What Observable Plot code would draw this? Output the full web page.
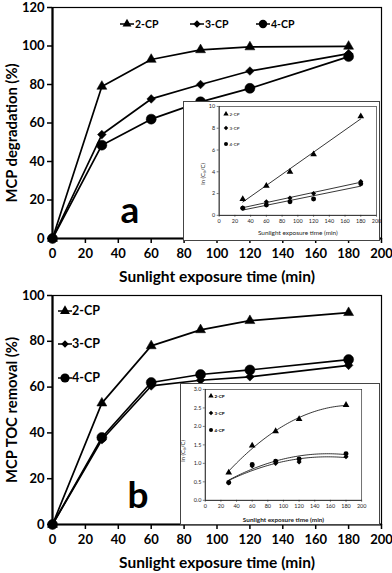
<!DOCTYPE html>
<html><head><meta charset="utf-8">
<script src="https://cdn.jsdelivr.net/npm/d3@7"></script>
<script src="https://cdn.jsdelivr.net/npm/@observablehq/plot@0.6"></script>
<style>
body{margin:0;background:#fff;}
#wrap{position:relative;width:392px;height:573px;overflow:hidden;font-family:Lato,'Open Sans',sans-serif;background:#fff;}
#wrap svg{overflow:visible;}
</style></head><body><div id="wrap"></div>
<script>
// ---- data ----
const series = ["2-CP", "3-CP", "4-CP"];
const times = [0, 30, 60, 90, 120, 180];
const degr2 = [0, 79, 93, 98, 99.5, 99.8];
const degr3 = [0, 54, 72.5, 80, 87, 96];
const degr4 = [0, 48.5, 62, 71, 78, 94.5];
const kinTimes = [30, 60, 90, 120, 180];
const kinA2 = [1.5, 2.7, 4.0, 5.6, 9.1];
const kinA3 = [0.7, 1.25, 1.6, 2.0, 3.1];
const kinA4 = [0.65, 0.95, 1.25, 1.5, 2.9];
const toc2 = [0, 53, 78, 85, 89, 92.5];
const toc3 = [0, 37, 60.5, 63, 64.5, 69.5];
const toc4 = [0, 38, 62, 65.5, 67.5, 72];
const kinB2 = [0.75, 1.48, 1.87, 2.2, 2.58];
const kinB3 = [0.47, 0.93, 1.0, 1.04, 1.18];
const kinB4 = [0.48, 0.97, 1.06, 1.12, 1.26];
const mainXTicks = [0, 20, 40, 60, 80, 100, 120, 140, 160, 180, 200];
const degrYTicks = [0, 20, 40, 60, 80, 100, 120];
const tocYTicks = [0, 20, 40, 60, 80, 100];
const insetAYTicks = [0, 2, 4, 6, 8, 10];
const insetBYTicks = [0, 0.5, 1, 1.5, 2, 2.5, 3];
const xTitle = "Sunlight exposure time (min)";
const yTitleA = "MCP degradation (%)";
const yTitleB = "MCP TOC removal (%)";
const insetYTitle = "ln (C\u2080/C)";
const panelA = "a", panelB = "b";

// ---- helpers ----
const FONT = "Lato, 'Open Sans', sans-serif";
const wrap = document.getElementById("wrap");
function place(node, left, top) {
  node.style.position = "absolute"; node.style.left = left + "px"; node.style.top = top + "px";
  wrap.appendChild(node); return node;
}
const symFor = {"2-CP": "triangle", "3-CP": "diamond2", "4-CP": "circle"};
function table(xs, arrs) {
  return series.flatMap((s, i) => xs.map((t, j) => ({t, v: arrs[i][j], s})));
}
function quadFit(xs, ys) {
  let n = xs.length, s1 = 0, s2 = 0, s3 = 0, s4 = 0, y0 = 0, y1 = 0, y2 = 0;
  xs.forEach((x, i) => { const y = ys[i]; s1 += x; s2 += x*x; s3 += x*x*x; s4 += x*x*x*x; y0 += y; y1 += x*y; y2 += x*x*y; });
  const M = [[n, s1, s2], [s1, s2, s3], [s2, s3, s4]], B = [y0, y1, y2];
  const det = m => m[0][0]*(m[1][1]*m[2][2]-m[1][2]*m[2][1]) - m[0][1]*(m[1][0]*m[2][2]-m[1][2]*m[2][0]) + m[0][2]*(m[1][0]*m[2][1]-m[1][1]*m[2][0]);
  const D = det(M);
  const coef = [0, 1, 2].map(k => det(M.map((row, r) => row.map((v, c) => c === k ? B[r] : v))) / D);
  return x => coef[0] + coef[1]*x + coef[2]*x*x;
}

function mainPlot({data, yMax, yTicks, yTitle, height, marginTop, marginBottom, titleDy}) {
  const sizes = {"2-CP": 3.7, "3-CP": 3.9, "4-CP": 5};
  return Plot.plot({
    width: 392, height, marginLeft: 52, marginRight: 11, marginTop, marginBottom,
    style: {fontFamily: FONT, fontWeight: "bold", fontSize: "13px", background: "transparent", color: "black", overflow: "visible"},
    x: {domain: [0, 200], label: null},
    y: {domain: [0, yMax], label: null},
    marks: [
      Plot.frame({stroke: "black", strokeWidth: 1.2}),
      Plot.axisX({ticks: mainXTicks, tickSize: 5, tickPadding: 5, label: null, strokeWidth: 1.5}),
      Plot.axisY({ticks: yTicks, tickSize: 5, tickPadding: 3, label: null, strokeWidth: 1.5}),
      Plot.ruleX([0], {stroke: "black", strokeWidth: 2.2}),
      Plot.ruleY([0], {stroke: "black", strokeWidth: 2.2}),
      Plot.line(data, {x: "t", y: "v", z: "s", stroke: "black", strokeWidth: 1.7}),
      ...series.map(s => Plot.dot(data.filter(d => d.s === s), {x: "t", y: "v", symbol: symFor[s], fill: "black", stroke: "black", strokeWidth: 0.5, r: sizes[s]})),
      Plot.text([xTitle], {text: d => d, frameAnchor: "bottom", textAnchor: "middle", lineAnchor: "middle", dy: 39, fontSize: 15.5}),
      Plot.text([yTitle], {text: d => d, frameAnchor: "left", textAnchor: "middle", lineAnchor: "middle", dx: -40, dy: titleDy, rotate: -90, fontSize: 14.8})
    ]
  });
}

function insetPlot({data, yMax, yTicks, width, height, mL, mR, mT, mB, fitKind, ylDx, ylDy, xtDy, titleWeight}) {
  const sizes = {"2-CP": 2.5, "3-CP": 2.3, "4-CP": 2.5};
  const fits = fitKind === "linear"
    ? series.map(s => Plot.linearRegressionY(data.filter(d => d.s === s), {x: "t", y: "v", ci: 0, stroke: "black", strokeWidth: 0.8}))
    : series.map(s => {
        const pts = data.filter(d => d.s === s);
        const f = quadFit(pts.map(d => d.t), pts.map(d => d.v));
        const lo = d3.min(pts, d => d.t), hi = d3.max(pts, d => d.t);
        const curve = d3.range(lo, hi + 0.001, 2.5).map(t => ({t, v: f(t)}));
        return Plot.line(curve, {x: "t", y: "v", stroke: "black", strokeWidth: 0.8});
      });
  return Plot.plot({
    width, height, marginLeft: mL, marginRight: mR, marginTop: mT, marginBottom: mB,
    style: {fontFamily: FONT, fontSize: "5.5px", background: "white", color: "#222", overflow: "visible"},
    x: {domain: [0, 200], label: null},
    y: {domain: [0, yMax], label: null},
    marks: [
      Plot.frame({stroke: "#333", strokeWidth: 0.7}),
      Plot.axisX({ticks: mainXTicks, tickSize: 2, tickPadding: 2, label: null, strokeWidth: 0.6}),
      Plot.axisY({ticks: yTicks, tickSize: 2, tickPadding: 2, label: null, strokeWidth: 0.6}),
      Plot.ruleX([0], {stroke: "#222", strokeWidth: 0.8}),
      Plot.ruleY([0], {stroke: "#222", strokeWidth: 0.8}),
      ...fits,
      ...series.map(s => Plot.dot(data.filter(d => d.s === s), {x: "t", y: "v", symbol: symFor[s], fill: "black", r: sizes[s]})),
      Plot.text([xTitle], {text: d => d, frameAnchor: "bottom", textAnchor: "middle", lineAnchor: "middle", dy: xtDy, fontSize: 6.5, fontWeight: titleWeight}),
      Plot.text([insetYTitle], {text: d => d, frameAnchor: "left", textAnchor: "middle", lineAnchor: "middle", dx: ylDx, dy: ylDy, rotate: -90, fontSize: 6})
    ]
  });
}

// ---- main panels ----
place(mainPlot({data: table(times, [degr2, degr3, degr4]), yMax: 120, yTicks: degrYTicks, yTitle: yTitleA,
  height: 285, marginTop: 7, marginBottom: 47, titleDy: 10}), 0, 0);
place(mainPlot({data: table(times, [toc2, toc3, toc4]), yMax: 100, yTicks: tocYTicks, yTitle: yTitleB,
  height: 288, marginTop: 10, marginBottom: 49, titleDy: 0}), 0, 285);

// ---- insets ----
const inA = insetPlot({data: table(kinTimes, [kinA2, kinA3, kinA4]), yMax: 10, yTicks: insetAYTicks,
  width: 197, height: 139, mL: 35, mR: 3, mT: 4, mB: 25, fitKind: "linear", ylDx: -16, ylDy: 13, xtDy: 18, titleWeight: "normal"});
inA.style.boxSizing = "border-box"; inA.style.border = "1px solid #444";
place(inA, 183, 101);
const inB = insetPlot({data: table(kinTimes, [kinB2, kinB3, kinB4]), yMax: 3, yTicks: insetBYTicks,
  width: 200, height: 141, mL: 24, mR: 18, mT: 5, mB: 24, fitKind: "poly", ylDx: -22, ylDy: 6, xtDy: 20, titleWeight: "bold"});
inB.style.boxSizing = "border-box"; inB.style.border = "1px solid #444";
place(inB, 180, 383);

// ---- legends and panel letters (overlay) ----
const ov = d3.create("svg").attr("width", 392).attr("height", 573).style("pointer-events", "none")
  .attr("font-family", FONT);
const d3sym = {"2-CP": d3.symbolTriangle, "3-CP": d3.symbolDiamond2, "4-CP": d3.symbolCircle};
function legendItem(g, s, mx, y, r, lineHalf, textX, fs, weight) {
  if (lineHalf > 0) g.append("line").attr("x1", mx - lineHalf).attr("x2", mx + lineHalf).attr("y1", y).attr("y2", y).attr("stroke", "black").attr("stroke-width", 1.5);
  g.append("path").attr("transform", `translate(${mx},${y})`).attr("d", d3.symbol(d3sym[s], r * r * Math.PI)()).attr("fill", "black");
  g.append("text").attr("x", textX).attr("y", y).attr("dy", "0.35em").attr("font-size", fs).attr("font-weight", weight).text(s);
}
const topLegendX = [127, 197, 263];
series.forEach((s, i) => legendItem(ov, s, topLegendX[i], 24, [3.3, 3.4, 4.2][i], 7, topLegendX[i] + 8, 10.5, "bold"));
const botLegendY = [311, 344, 378];
series.forEach((s, i) => legendItem(ov, s, 65, botLegendY[i], [3.7, 3.4, 4.6][i], 7, 72, 12.5, "bold"));
const insALegendY = [114, 128, 144];
series.forEach((s, i) => legendItem(ov, s, 226, insALegendY[i], 2, 0, 229.5, 4.5, "normal"));
const insBLegendY = [396, 413, 430];
series.forEach((s, i) => legendItem(ov, s, 211, insBLegendY[i], 2, 0, 214.5, 4.5, "bold"));
ov.append("text").attr("x", 130).attr("y", 223).attr("text-anchor", "middle").attr("font-size", 37).attr("font-weight", "bold").text(panelA);
ov.append("text").attr("x", 138).attr("y", 508).attr("text-anchor", "middle").attr("font-size", 37).attr("font-weight", "bold").text(panelB);
place(ov.node(), 0, 0);
</script></body></html>
